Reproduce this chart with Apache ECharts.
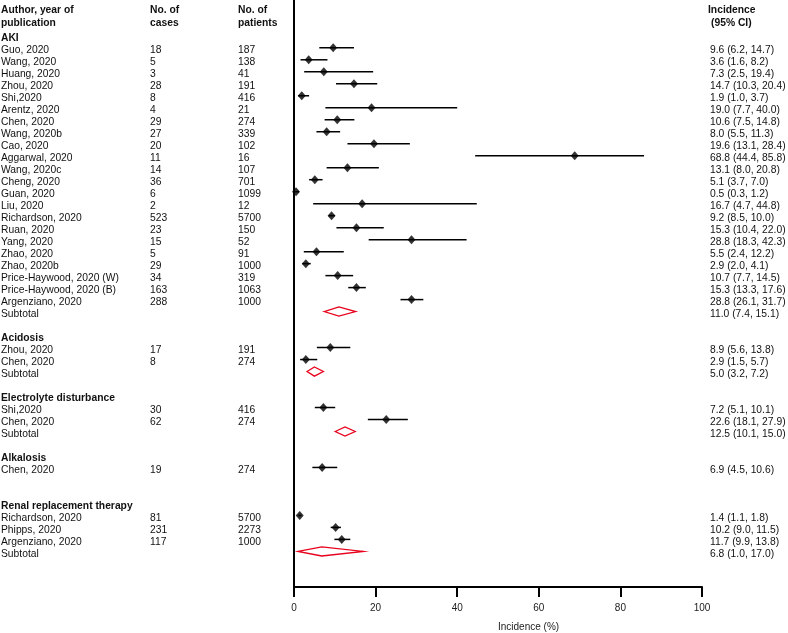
<!DOCTYPE html>
<html><head><meta charset="utf-8">
<script src="https://cdn.jsdelivr.net/npm/echarts@6/dist/echarts.min.js"></script>
<style>html,body{margin:0;padding:0;background:#fff}#c{width:788px;height:633px}</style>
</head><body><div id="c"></div>
<script>
// ---- data ----
const groupNames = ['AKI', 'Acidosis', 'Electrolyte disturbance', 'Alkalosis', 'Renal replacement therapy'];
const groupRows = [-1, 24, 29, 34, 38];

const studyNames = [
  'Guo, 2020', 'Wang, 2020', 'Huang, 2020', 'Zhou, 2020', 'Shi,2020', 'Arentz, 2020', 'Chen, 2020',
  'Wang, 2020b', 'Cao, 2020', 'Aggarwal, 2020', 'Wang, 2020c', 'Cheng, 2020', 'Guan, 2020', 'Liu, 2020',
  'Richardson, 2020', 'Ruan, 2020', 'Yang, 2020', 'Zhao, 2020', 'Zhao, 2020b',
  'Price-Haywood, 2020 (W)', 'Price-Haywood, 2020 (B)', 'Argenziano, 2020',
  'Zhou, 2020', 'Chen, 2020',
  'Shi,2020', 'Chen, 2020',
  'Chen, 2020',
  'Richardson, 2020', 'Phipps, 2020', 'Argenziano, 2020'
];
const studyRows = [0,1,2,3,4,5,6,7,8,9,10,11,12,13,14,15,16,17,18,19,20,21, 25,26, 30,31, 35, 39,40,41];
const studyCases = [18,5,3,28,8,4,29,27,20,11,14,36,6,2,523,23,15,5,29,34,163,288, 17,8, 30,62, 19, 81,231,117];
const studyPatients = [187,138,41,191,416,21,274,339,102,16,107,701,1099,12,5700,150,52,91,1000,319,1063,1000, 191,274, 416,274, 274, 5700,2273,1000];
const studyEst  = [9.6,3.6,7.3,14.7,1.9,19.0,10.6,8.0,19.6,68.8,13.1,5.1,0.5,16.7,9.2,15.3,28.8,5.5,2.9,10.7,15.3,28.8, 8.9,2.9, 7.2,22.6, 6.9, 1.4,10.2,11.7];
const studyLow  = [6.2,1.6,2.5,10.3,1.0,7.7,7.5,5.5,13.1,44.4,8.0,3.7,0.3,4.7,8.5,10.4,18.3,2.4,2.0,7.7,13.3,26.1, 5.6,1.5, 5.1,18.1, 4.5, 1.1,9.0,9.9];
const studyHigh = [14.7,8.2,19.4,20.4,3.7,40.0,14.8,11.3,28.4,85.8,20.8,7.0,1.2,44.8,10.0,22.0,42.3,12.2,4.1,14.5,17.6,31.7, 13.8,5.7, 10.1,27.9, 10.6, 1.8,11.5,13.8];

const subtotalRows = [22, 27, 32, 42];
const subtotalEst  = [11.0, 5.0, 12.5, 6.8];
const subtotalLow  = [7.4, 3.2, 10.1, 1.0];
const subtotalHigh = [15.1, 7.2, 15.0, 17.0];

const xTickMin = 0, xTickMax = 100, xTickStep = 20;
const axisTitle = 'Incidence (%)';

// ---- layout constants ----
const COL_AUTHOR = 1, COL_CASES = 150, COL_PATIENTS = 238, COL_CI = 710;
const HEAD_ROW1 = -3.33, HEAD_ROW2 = -2.25;
const TEXT_Y_MIN = -4.163, TEXT_Y_MAX = 44.71;   // text rows
const MARK_Y_MIN = -3.987, MARK_Y_MAX = 44.97;   // marks sit ~2px above text baseline centre
const FONT = '"Liberation Sans", Arial, sans-serif';
const FS = 10.3;

const fmt = (e, l, h) => e.toFixed(1) + ' (' + l.toFixed(1) + ', ' + h.toFixed(1) + ')';

const texts = [];
function addText(x, row, text, bold) { texts.push({x, row, text, bold: !!bold}); }
addText(COL_AUTHOR, HEAD_ROW1, 'Author, year of', true);
addText(COL_AUTHOR, HEAD_ROW2, 'publication', true);
addText(COL_CASES, HEAD_ROW1, 'No. of', true);
addText(COL_CASES, HEAD_ROW2, 'cases', true);
addText(COL_PATIENTS, HEAD_ROW1, 'No. of', true);
addText(COL_PATIENTS, HEAD_ROW2, 'patients', true);
addText(COL_CI - 2, HEAD_ROW1, 'Incidence', true);
addText(COL_CI + 1, HEAD_ROW2, '(95% CI)', true);
groupNames.forEach((g, i) => addText(COL_AUTHOR, groupRows[i], g, true));
studyNames.forEach((n, i) => {
  addText(COL_AUTHOR, studyRows[i], n);
  addText(COL_CASES, studyRows[i], String(studyCases[i]));
  addText(COL_PATIENTS, studyRows[i], String(studyPatients[i]));
  addText(COL_CI, studyRows[i], fmt(studyEst[i], studyLow[i], studyHigh[i]));
});
subtotalRows.forEach((r, i) => {
  addText(COL_AUTHOR, r, 'Subtotal');
  addText(COL_CI, r, fmt(subtotalEst[i], subtotalLow[i], subtotalHigh[i]));
});

const chart = echarts.init(document.getElementById('c'), null, {renderer: 'canvas'});
chart.setOption({
  animation: false,
  backgroundColor: '#fff',
  grid: [
    {left: 294, right: 86, top: 0, bottom: 46, containLabel: false, outerBoundsMode: 'none'},
    {left: 0, right: 0, top: 0, bottom: 46, containLabel: false, outerBoundsMode: 'none'}
  ],
  xAxis: [
    {
      gridIndex: 0, type: 'value', position: 'bottom', min: xTickMin, max: xTickMax, interval: xTickStep,
      axisLine: {show: true, onZero: false, lineStyle: {color: '#000', width: 2}},
      axisTick: {show: true, length: 10, lineStyle: {color: '#000', width: 2}},
      axisLabel: {color: '#222', fontSize: 10, fontFamily: FONT, margin: 16},
      splitLine: {show: false},
      name: axisTitle, nameLocation: 'middle', nameGap: 35,
      nameTextStyle: {color: '#222', fontSize: 10, fontFamily: FONT, align: 'left'}
    },
    {gridIndex: 1, type: 'value', min: 0, max: 788, show: false}
  ],
  yAxis: [
    {
      gridIndex: 0, type: 'value', inverse: true, min: MARK_Y_MIN, max: MARK_Y_MAX, position: 'left',
      axisLine: {show: true, onZero: false, lineStyle: {color: '#000', width: 2}},
      axisTick: {show: false}, axisLabel: {show: false}, splitLine: {show: false}
    },
    {gridIndex: 1, type: 'value', inverse: true, min: TEXT_Y_MIN, max: TEXT_Y_MAX, show: false}
  ],
  series: [
    {
      type: 'custom', xAxisIndex: 0, yAxisIndex: 0, clip: false,
      data: studyRows.map((r, i) => [studyLow[i], studyHigh[i], r]),
      encode: {x: [0, 1], y: 2},
      renderItem: (params, api) => {
        const a = api.coord([api.value(0), api.value(2)]);
        const b = api.coord([api.value(1), api.value(2)]);
        return {type: 'line', shape: {x1: a[0], y1: a[1], x2: b[0], y2: b[1]},
                style: {stroke: '#000', lineWidth: 1.5}};
      }
    },
    {
      type: 'scatter', xAxisIndex: 0, yAxisIndex: 0, clip: false,
      symbol: 'diamond', symbolSize: [8, 9],
      itemStyle: {color: '#000'},
      data: studyRows.map((r, i) => [studyEst[i], r]),
      z: 3
    },
    {
      type: 'custom', xAxisIndex: 0, yAxisIndex: 0, clip: false,
      data: subtotalRows.map((r, i) => [subtotalLow[i], subtotalEst[i], subtotalHigh[i], r]),
      encode: {x: [0, 1, 2], y: 3},
      renderItem: (params, api) => {
        const l = api.coord([api.value(0), api.value(3)]);
        const m = api.coord([api.value(1), api.value(3)]);
        const h = api.coord([api.value(2), api.value(3)]);
        const hh = 4.6;
        return {type: 'polygon',
                shape: {points: [[l[0], l[1]], [m[0], m[1] - hh], [h[0], h[1]], [m[0], m[1] + hh]]},
                style: {stroke: '#e8001c', fill: 'none', lineWidth: 1.3}};
      }
    },
    {
      type: 'custom', xAxisIndex: 1, yAxisIndex: 1, clip: false,
      data: texts.map(t => [t.x, t.row]),
      renderItem: (params, api) => {
        const t = texts[params.dataIndex];
        const p = api.coord([api.value(0), api.value(1)]);
        return {type: 'text', style: {
          x: p[0], y: p[1], text: t.text, fill: '#111',
          font: (t.bold ? 'bold ' : '') + FS + 'px ' + FONT,
          align: 'left', verticalAlign: 'middle'
        }};
      }
    }
  ]
});
</script></body></html>
